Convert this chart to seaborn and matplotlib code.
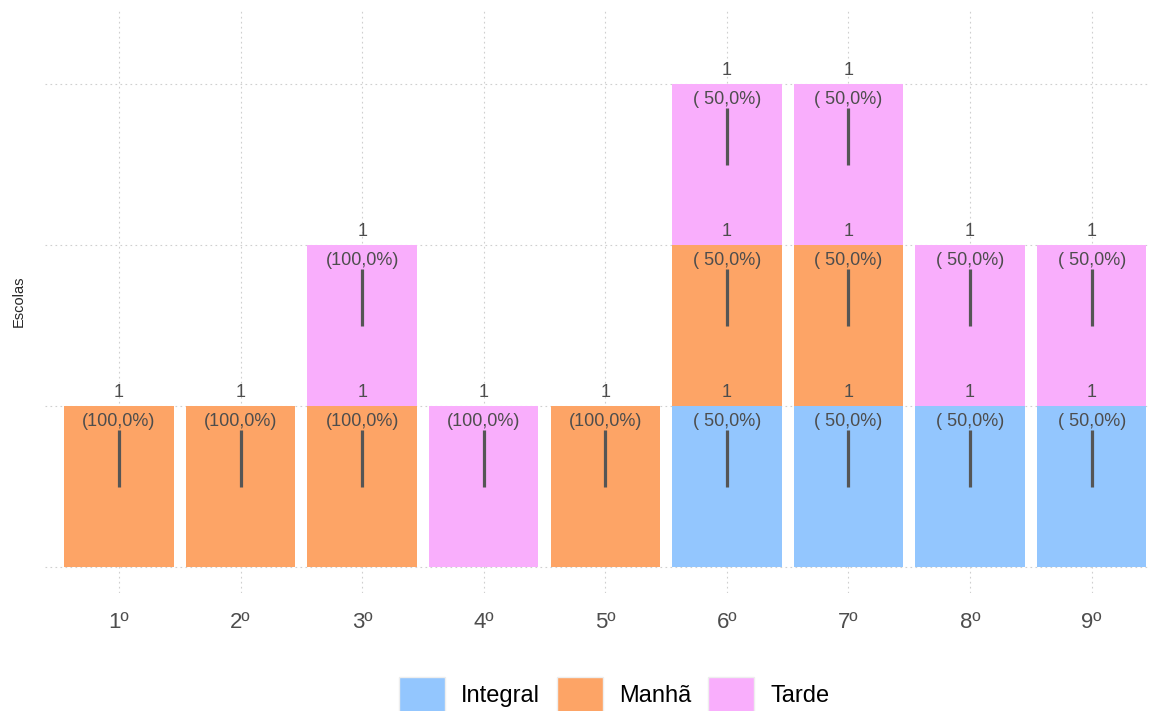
import pandas as pd
import matplotlib.pyplot as plt
import seaborn as sns
from matplotlib.patches import Patch

# Data
series = ['1º', '2º', '3º', '4º', '5º', '6º', '7º', '8º', '9º']
turnos = ['Integral', 'Manhã', 'Tarde']
integral = [0, 0, 0, 0, 0, 1, 1, 1, 1]
manha = [1, 1, 1, 0, 1, 1, 1, 0, 0]
tarde = [0, 0, 1, 1, 0, 1, 1, 1, 1]
pct_integral = ['', '', '', '', '', '( 50,0%)', '( 50,0%)', '( 50,0%)', '( 50,0%)']
pct_manha = ['(100,0%)', '(100,0%)', '(100,0%)', '', '(100,0%)', '( 50,0%)', '( 50,0%)', '', '']
pct_tarde = ['', '', '(100,0%)', '(100,0%)', '', '( 50,0%)', '( 50,0%)', '( 50,0%)', '( 50,0%)']
colors = {'Integral': '#93C6FE', 'Manhã': '#FDA466', 'Tarde': '#F9AEFC'}

# Long table with cumulative tops for stacking
rows = []
counts = {'Integral': integral, 'Manhã': manha, 'Tarde': tarde}
pcts = {'Integral': pct_integral, 'Manhã': pct_manha, 'Tarde': pct_tarde}
for i, s in enumerate(series):
    base = 0
    for t in turnos:
        n = counts[t][i]
        if n > 0:
            rows.append({'serie': s, 'pos': i, 'turno': t, 'n': n,
                         'top': base + n, 'pct': pcts[t][i]})
        base += n
df = pd.DataFrame(rows)

sns.set_style("white")
plt.rcParams['font.family'] = ['Liberation Sans', 'DejaVu Sans']

fig = plt.figure(figsize=(11.5, 7.11), dpi=100)
ax = fig.add_axes([0.039, 0.166, 0.961, 0.820])

# draw tallest layer first so lower layers cover it
sns.barplot(data=df, x='serie', y='top', hue='turno', order=series,
            hue_order=turnos[::-1], palette=colors, dodge=False,
            width=0.9, saturation=1, legend=False, linewidth=0,
            ax=ax, zorder=2)

# label lines and texts for each segment
ax.vlines(df['pos'], df['top'] - 0.5, df['top'] - 0.15, color='#555555',
          linewidth=2.3, zorder=3)
for _, r in df.iterrows():
    ax.text(r['pos'], r['top'] + 0.087, str(r['n']), ha='center', va='center',
            fontsize=13, color='#4d4d4d', zorder=4)
    ax.text(r['pos'], r['top'] - 0.093, r['pct'], ha='center', va='center',
            fontsize=13, color='#4d4d4d', zorder=4)

ax.set_xlim(-0.61, 8.48)
ax.set_ylim(-0.16, 3.46)
ax.set_yticks([0, 1, 2, 3])
ax.set_yticklabels([])
ax.tick_params(axis='both', length=0)
ax.tick_params(axis='x', labelsize=16, labelcolor='#4d4d4d', pad=14)
ax.grid(True, color='#cfcfcf', linestyle=(0, (1.5, 3)), linewidth=0.8, zorder=0)
ax.set_axisbelow(True)
for sp in ax.spines.values():
    sp.set_visible(False)
ax.set_xlabel('')
ax.set_ylabel('Escolas', fontsize=10.5, labelpad=10)

handles = [Patch(facecolor=colors[t], edgecolor='#eeeeee', linewidth=1) for t in turnos]
leg = fig.legend(handles, turnos, loc='center', bbox_to_anchor=(0.534, 0.023),
                 ncol=3, frameon=False, fontsize=17, handlelength=1.95,
                 handleheight=1.95, handletextpad=0.7, columnspacing=0.7, borderpad=0)
for txt in leg.get_texts():
    txt.set_color('black')

plt.savefig('out.png', dpi=100)
